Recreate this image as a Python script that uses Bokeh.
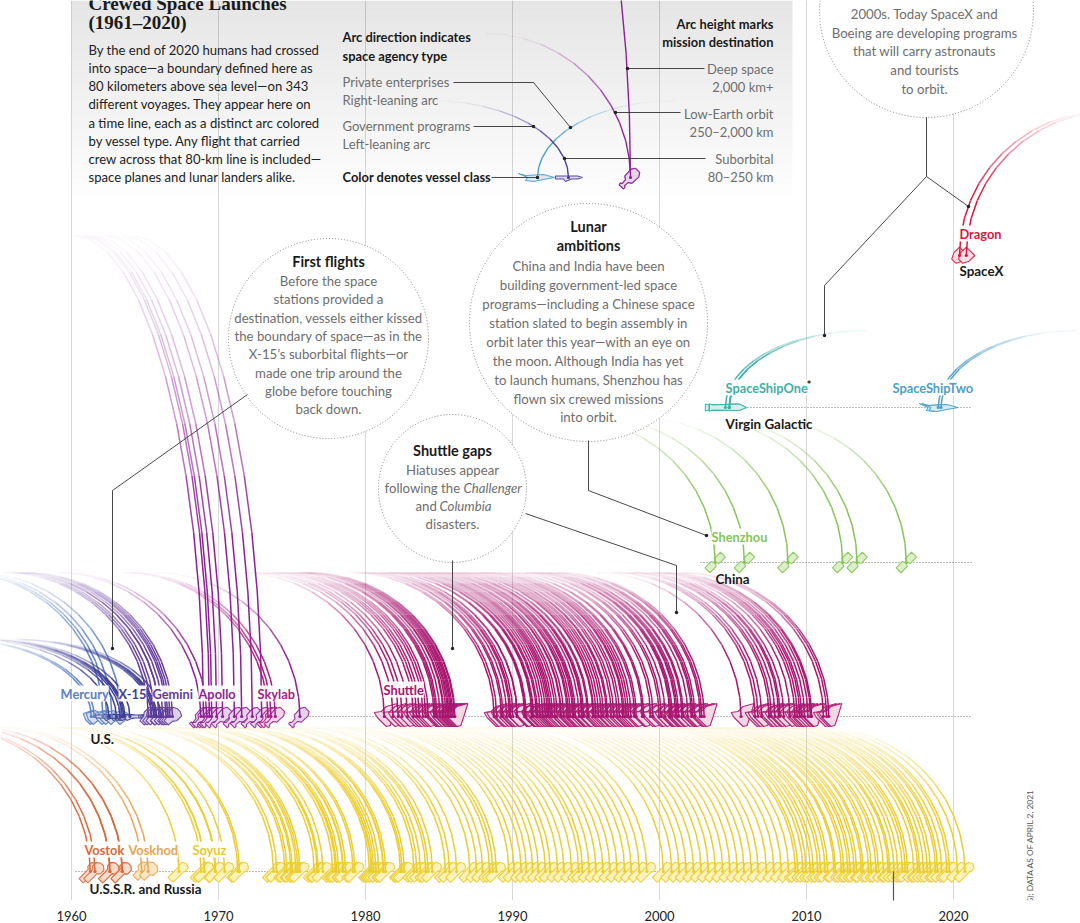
import numpy as np
from bokeh.plotting import figure
from bokeh.models import Range1d, FixedTicker, Label, Arrow
from bokeh.core.properties import value
from bokeh.embed import file_html
from bokeh.resources import INLINE

# ---- launch dates (decimal years) ----
mercury_sub = [1961.35, 1961.55]
mercury_orb = [1962.14, 1962.39, 1962.75, 1963.37]
x15 = [1962.54, 1963.05, 1963.30, 1963.46, 1963.55, 1963.63, 1963.97, 1965.46, 1965.60, 1965.70, 1965.79, 1966.07]
gemini = [1965.23, 1965.43, 1965.64, 1965.95, 1965.96, 1966.21, 1966.43, 1966.55, 1966.70, 1966.87]
apollo_leo = [1968.80, 1969.20]
apollo_deep = [1968.98, 1969.38, 1969.54, 1969.87, 1970.28, 1971.08, 1971.58, 1972.30, 1972.94]
skylab = [1973.37, 1973.57, 1973.87, 1975.54]
shuttle = [1981.28, 1981.87, 1982.23, 1982.49, 1982.86, 1983.26, 1983.47, 1983.66, 1983.91, 1984.09, 1984.27,
           1984.66, 1984.76, 1984.86, 1985.07, 1985.28, 1985.33, 1985.47, 1985.58, 1985.66, 1985.76, 1985.83,
           1985.91, 1986.03, 1986.08,
           1988.75, 1988.92, 1989.24, 1989.35, 1989.60, 1989.80, 1989.89, 1990.03, 1990.31, 1990.32, 1990.82,
           1990.87, 1990.93, 1991.30, 1991.35, 1991.42, 1991.62, 1991.71, 1991.89, 1992.06, 1992.23, 1992.37,
           1992.48, 1992.58, 1992.71, 1992.89, 1993.04, 1993.27, 1993.31, 1993.47, 1993.72, 1993.80, 1993.93,
           1994.09, 1994.18, 1994.28, 1994.52, 1994.71, 1994.75, 1994.84, 1995.10, 1995.17, 1995.48, 1995.53,
           1995.68, 1995.85, 1996.03, 1996.18, 1996.39, 1996.47, 1996.72, 1996.88, 1997.12, 1997.28, 1997.51,
           1997.59, 1997.74, 1997.89, 1998.06, 1998.30, 1998.42, 1998.83, 1998.92, 1999.39, 1999.56, 1999.97,
           2000.11, 2000.38, 2000.69, 2000.77, 2000.86, 2001.10, 2001.19, 2001.30, 2001.53, 2001.61, 2001.93,
           2002.17, 2002.27, 2002.40, 2002.76, 2002.87, 2003.04,
           2005.55, 2006.50, 2006.70, 2006.95, 2007.45, 2007.60, 2007.85, 2008.10, 2008.20, 2008.45, 2008.87,
           2009.20, 2009.37, 2009.54, 2009.66, 2009.87, 2010.10, 2010.27, 2010.35, 2011.15, 2011.37, 2011.52]
vostok = [1961.28, 1961.60, 1962.61, 1962.62, 1963.45, 1963.46]
voskhod = [1964.78, 1965.22]
soyuz = [1967.31, 1968.82, 1969.04, 1969.05, 1969.78, 1969.79, 1969.80, 1970.42, 1971.31, 1971.43, 1973.74, 1973.96,
         1974.51, 1974.65, 1974.92, 1975.02, 1975.27, 1975.40, 1975.54, 1976.51, 1976.71, 1976.79, 1977.10, 1977.77,
         1977.95, 1978.03, 1978.17, 1978.46, 1978.49, 1978.65, 1979.15, 1979.28, 1980.27, 1980.40, 1980.43, 1980.56,
         1980.72, 1980.91, 1981.20, 1981.23, 1981.37, 1982.37, 1982.48, 1982.64, 1983.30, 1983.49, 1983.74, 1984.10,
         1984.26, 1984.55, 1985.43, 1985.71, 1986.20, 1987.10, 1987.56, 1987.97, 1988.44, 1988.66, 1988.90, 1989.75,
         1990.11, 1990.59, 1990.95, 1991.38, 1991.76, 1992.24, 1992.57, 1993.07, 1993.50, 1994.02, 1994.50, 1994.76,
         1995.21, 1995.68, 1996.15, 1996.63, 1997.11, 1997.63, 1998.08, 1998.62, 1999.14, 2000.26, 2000.83, 2001.33,
         2001.81, 2002.32, 2002.83, 2003.32, 2003.80, 2004.30, 2004.79, 2005.29, 2005.75, 2006.25, 2006.71, 2007.27,
         2007.78, 2008.28, 2008.78, 2009.24, 2009.41, 2009.75, 2009.97, 2010.26, 2010.46, 2010.77, 2010.96, 2011.26,
         2011.44, 2011.87, 2011.97, 2012.38, 2012.54, 2012.81, 2012.97, 2013.24, 2013.41, 2013.73, 2013.85, 2014.23,
         2014.41, 2014.73, 2014.90, 2015.24, 2015.56, 2015.67, 2015.96, 2016.21, 2016.52, 2016.72, 2016.88, 2017.30,
         2017.57, 2017.70, 2017.96, 2018.22, 2018.43, 2018.78, 2018.92, 2019.20, 2019.55, 2019.73, 2020.27, 2020.78]
shenzhou = [2003.79, 2005.78, 2008.74, 2012.46, 2013.44, 2016.79]
spaceshipone = [2004.48, 2004.73, 2004.76]
spaceshiptwo = [2018.96, 2019.15]
dragon = [2020.41, 2020.87]

tick_years = [1960, 1970, 1980, 1990, 2000, 2010, 2020]

# ---- scale of the picture ----
PXY = 14.7
def X(px):
    return 1960 + (np.asarray(px, dtype=float) - 71) / PXY

BODY = "Lato"
INK = "#1a1a1a"
GREY = "#6e6e6e"

LEO_H, SUB_H, DEEP_H = 144, 77, 481
LEO_W, SUB_W, DEEP_W = 145, 138, 130

# ---- vessel outlines, px around the launch dot ----
def tilt(poly):
    return [((u + v) * 0.707, (-u + v) * 0.707) for u, v in poly]

SHAPES = {
    "capsule": tilt([(-13, -3), (-11, -3), (-10, -1.5), (-5, -2), (-3, -5), (6, -5.5), (10, -3), (10, 3), (6, 5.5),
                     (-3, 5), (-5, 2), (-10, 1.5), (-11, 3), (-13, 3)]),
    "gemini": tilt([(-9, -3), (-3, -3.5), (0, -6), (7, -6), (9, -2), (9, 2), (7, 6), (0, 6), (-3, 3.5), (-9, 3)]),
    "mercury": [(-8, -3), (1, -6), (7, -3), (6, 2), (-1, 8), (-6, 3)],
    "x15": [(-13, -1.5), (9, -1.5), (14, 0), (9, 1.5), (3, 1.5), (-3, 4), (-5, 1.5), (-13, 1.5)],
    "shuttle": [(-10, -4), (-7, 1), (2, 10), (6, 9), (9, 0), (13, -13), (2, -10), (-3, -5)],
    "vostok": tilt([(-13, -3), (0, -3), (2, -5.5), (7, -5.5), (10, -2), (10, 2), (7, 5.5), (2, 5.5), (0, 3), (-13, 3)]),
    "voskhod": tilt([(-9, -3.5), (-1, -3.5), (1, -6.5), (7, -6.5), (10, -2.5), (10, 2.5), (7, 6.5), (1, 6.5), (-1, 3.5), (-9, 3.5)]),
    "soyuz": tilt([(-12, -3.5), (3, -3.5), (5, -4.5), (9, -4), (11, 0), (9, 4), (5, 4.5), (3, 3.5), (-12, 3.5)]),
    "shenzhou": tilt([(-11, -3.5), (-2, -3.5), (-1, -1), (1, -1), (2, -3.5), (11, -3.5), (11, 3.5), (2, 3.5), (1, 1), (-1, 1), (-2, 3.5), (-11, 3.5)]),
    "dragon": tilt([(-8, -3), (-2, -6), (6, -6), (6, 6), (-2, 6), (-8, 3)]),
    "ss1": [(-20, -3.5), (-16, -2.5), (10, -3.5), (17, 0), (10, 3), (-16, 2.5), (-20, 3.5)],
    "ss2": [(-19, -4), (-12, -2), (6, -3), (17, 0), (6, 2), (-4, 4), (-12, 3), (-10, 0)],
}

# name, dates, line colour, icon fill, arc h, arc w, direction, base row, shape
PROGRAMS = [
    ("Vostok", vostok, "#d8693c", "#f8dccb", LEO_H, LEO_W, -1, 871, "vostok"),
    ("Voskhod", voskhod, "#e8a552", "#fbe6c4", LEO_H, LEO_W, -1, 871, "voskhod"),
    ("Soyuz", soyuz, "#eccd2f", "#fbf2bd", LEO_H, LEO_W, -1, 871, "soyuz"),
    ("Mercury sub", mercury_sub, "#5b80c2", "#d5dff0", SUB_H, SUB_W, -1, 716, "mercury"),
    ("Mercury", mercury_orb, "#5b80c2", "#d5dff0", LEO_H, LEO_W, -1, 716, "mercury"),
    ("X-15", x15, "#3f3d96", "#d8d7ea", SUB_H, SUB_W, -1, 716, "x15"),
    ("Gemini", gemini, "#653a9c", "#dcd2e8", LEO_H, LEO_W, -1, 716, "gemini"),
    ("Apollo LEO", apollo_leo, "#8e1f96", "#e7d3ea", LEO_H, LEO_W, -1, 716, "capsule"),
    ("Apollo", apollo_deep, "#8e1f96", "#e7d3ea", DEEP_H, DEEP_W, -1, 716, "capsule"),
    ("Skylab", skylab[:3], "#a81c85", "#f0d5e7", LEO_H, LEO_W, -1, 716, "capsule"),
    ("ASTP", skylab[3:], "#8e1f96", "#e7d3ea", LEO_H, LEO_W, -1, 716, "capsule"),
    ("Shuttle", shuttle, "#a8156f", "#f2d8e4", LEO_H, LEO_W, -1, 716, "shuttle"),
    ("Shenzhou", shenzhou, "#86c45a", "#dcefc9", LEO_H, LEO_W, -1, 562, "shenzhou"),
    ("SpaceShipOne", spaceshipone, "#3fb0a8", "#d6efec", SUB_H, SUB_W, 1, 407, "ss1"),
    ("SpaceShipTwo", spaceshiptwo, "#4d9fc8", "#d8ebf5", SUB_H, SUB_W, 1, 407, "ss2"),
    ("Dragon", dragon, "#d8173f", "#fbdfe5", LEO_H, LEO_W, 1, 255, "dragon"),
]

# ---- the little key in the panel: base px, colour, fill, h, w, dir, shape ----
KEY = [
    (537, "#4d9fc8", "#d8ebf5", SUB_H, SUB_W, 1, "ss2"),
    (568, "#4a3f9e", "#dcd7ee", SUB_H, SUB_W, -1, "x15"),
    (630, "#8e1f96", "#e7d3ea", LEO_H, LEO_W, -1, "capsule"),
    (630, "#8e1f96", "#e7d3ea", DEEP_H, DEEP_W, -1, "capsule"),
]
KEY_Y = 177

p = figure(width=1080, height=923, frame_width=1080, frame_height=900, output_backend="svg", toolbar_location=None,
           x_range=Range1d(float(X(0)), float(X(1080))), y_range=Range1d(900, 0),
           min_border=0, min_border_bottom=23, outline_line_color=None, background_fill_color="white",
           border_fill_color="white", y_axis_location=None)
p.xaxis.ticker = FixedTicker(ticks=tick_years)
p.xaxis.axis_line_color = None
p.xaxis.major_tick_line_color = None
p.xaxis.minor_tick_line_color = None
p.xaxis.major_label_standoff = 4
p.xaxis.major_label_text_font = BODY
p.xaxis.major_label_text_font_size = "13px"
p.xaxis.major_label_text_color = "#222222"
p.xgrid.ticker = FixedTicker(ticks=tick_years)
p.xgrid.grid_line_color = "#d8d8d8"
p.xgrid.grid_line_width = 1
p.ygrid.visible = False

# panel gradient
rows = np.arange(0, 210, 5)
p.quad(left=float(X(71)), right=float(X(792)), top=rows, bottom=rows + 5, fill_color="#000000",
       fill_alpha=np.clip(0.10 * (1 - rows / 205.0), 0, 1), line_color=None)

# baselines
for a, b, y in [(300, 972, 716), (75, 972, 871), (700, 972, 562), (735, 972, 407)]:
    p.line(X([a, b]), [y, y], line_color="#555555", line_width=0.8, line_dash="1 2")

TH = np.radians(np.linspace(0, 90, 13))
def arc_parts(x0_year, base, h, w, d):
    x0 = 71 + (x0_year - 1960) * PXY
    xs = x0 + d * w * (1 - np.cos(TH))
    ys = base - h * np.sin(TH)
    xl, yl, al = [], [], []
    fade = 0.75 if h == DEEP_H else 1.3
    for i in range(len(TH) - 1):
        xl.append(X(xs[i:i + 2]))
        yl.append(ys[i:i + 2])
        s = np.sin(TH[i + 1])
        al.append(float(np.clip(1.0 - 0.98 * max(0.0, (s - 0.45) / 0.55) ** fade, 0.03, 1)))
    return xl, yl, al

def draw_icons(years, base, shape, col, fill):
    xs = [X(71 + (t - 1960) * PXY + np.array([q[0] for q in SHAPES[shape]])) for t in years]
    ys = [base + np.array([q[1] for q in SHAPES[shape]]) for t in years]
    p.patches(xs, ys, fill_color=fill, line_color=col, line_width=1.1, line_alpha=0.9)

for name, dates, col, fill, h, w, d, base, shape in PROGRAMS:
    draw_icons(dates, base, shape, col, fill)
for name, dates, col, fill, h, w, d, base, shape in PROGRAMS:
    xl, yl, al = [], [], []
    for t in dates:
        a, b, c = arc_parts(t, base, h, w, d)
        xl += a; yl += b; al += c
    p.multi_line(xl, yl, line_color=col, line_alpha=al, line_width=1.5)
    p.scatter(dates, [base] * len(dates), size=3.2, color=col, line_color=None)

for bx, col, fill, h, w, d, shape in KEY:
    t = float(X(bx))
    draw_icons([t], KEY_Y, shape, col, fill)
    a, b, c = arc_parts(t, KEY_Y, h, w, d)
    p.multi_line(a, b, line_color=col, line_alpha=c, line_width=1.4)
    p.scatter([t], [KEY_Y], size=3.2, color=col, line_color=None)

def txt(x, y, s, color=INK, size=13, style="normal", align="left", font=BODY, bg=False):
    kw = {}
    if bg:
        kw = dict(background_fill_color="white", background_fill_alpha=0.92)
    p.text([float(X(x))], [y], text=[s], text_color=color, text_font=value(font), text_font_size=f"{size}px",
           text_font_style=style, text_align=align, text_baseline="middle", **kw)

# vessel labels
LABELS = [("Mercury", 60, 693, "#5b80c2"), ("X-15", 118, 693, "#3f3d96"), ("Gemini", 152, 693, "#653a9c"),
          ("Apollo", 198, 693, "#8e1f96"), ("Skylab", 257, 693, "#a81c85"), ("Shuttle", 383, 689, "#a8156f"),
          ("Vostok", 84, 849, "#d8693c"), ("Voskhod", 128, 849, "#e8a552"), ("Soyuz", 192, 849, "#e8c92c"),
          ("Shenzhou", 711, 536, "#86c45a"), ("SpaceShipOne", 725, 387, "#3fb0a8"), ("SpaceShipTwo", 892, 387, "#4d9fc8"),
          ("Dragon", 959, 233, "#d8173f")]
for s, x, y, c in LABELS:
    txt(x, y, s, c, 12.8, "bold", bg=True)
txt(806, 384, "*", INK, 12, "bold")
AGENCIES = [("SpaceX", 959, 270), ("Virgin Galactic", 725, 423), ("China", 715, 578), ("U.S.", 90, 738),
            ("U.S.S.R. and Russia", 89, 888)]
for s, x, y in AGENCIES:
    txt(x, y, s, INK, 13.4, "bold")

# callout circles
CIRCLES = [(328, 338, 100), (588, 322, 119), (452, 488, 74), (926, 10, 107)]
p.scatter(X([c[0] for c in CIRCLES]), [c[1] for c in CIRCLES], size=[2 * c[2] for c in CIRCLES], marker="circle",
          fill_color="white", line_color="#777777", line_width=0.9, line_dash="1 2")

FIRST = ["Before the space", "stations provided a", "destination, vessels either kissed", "the boundary of space\u2014as in the",
         "X-15\u2019s suborbital flights\u2014or", "made one trip around the", "globe before touching", "back down."]
LUNAR = ["China and India have been", "building government-led space", "programs\u2014including a Chinese space",
         "station slated to begin assembly in", "orbit later this year\u2014with an eye on", "the moon. Although India has yet",
         "to launch humans, Shenzhou has", "flown six crewed missions", "into orbit."]
COMMERCIAL = ["2000s. Today SpaceX and", "Boeing are developing programs", "that will carry astronauts", "and tourists", "to orbit."]
INTRO = ["By the end of 2020 humans had crossed", "into space\u2014a boundary defined here as", "80 kilometers above sea level\u2014on 343",
         "different voyages. They appear here on", "a time line, each as a distinct arc colored", "by vessel type. Any flight that carried",
         "crew across that 80-km line is included\u2014", "space planes and lunar landers alike."]

CT = 13.2
HD = 14.5
txt(328, 261, "First flights", INK, HD, "bold", "center")
for s, y in zip(FIRST, [280, 298, 317, 335, 353, 372, 390, 408]):
    txt(328, y, s, GREY, CT, align="center")
txt(588, 226, "Lunar", INK, HD, "bold", "center")
txt(588, 245, "ambitions", INK, HD, "bold", "center")
for s, y in zip(LUNAR, [265, 284, 303, 322, 341, 360, 379, 398, 416]):
    txt(588, y, s, GREY, CT, align="center")
txt(452, 450, "Shuttle gaps", INK, HD, "bold", "center")
txt(452, 469, "Hiatuses appear", GREY, CT, align="center")
txt(384, 487, "following the", GREY, CT)
txt(463, 487, "Challenger", GREY, CT, "italic")
txt(415, 505, "and", GREY, CT)
txt(439, 505, "Columbia", GREY, CT, "italic")
txt(452, 523, "disasters.", GREY, CT, align="center")
for s, y in zip(COMMERCIAL, [13, 32, 50, 69, 88]):
    txt(924, y, s, GREY, CT, align="center")

# panel text
txt(88, 3, "Crewed Space Launches", INK, 19, "bold", font="Liberation Serif")
txt(88, 22, "(1961\u20132020)", INK, 19, "bold", font="Liberation Serif")
for s, y in zip(INTRO, [49, 67, 85, 103, 122, 140, 158, 176]):
    txt(88, y, s, "#222222", 13.1)
txt(342, 36, "Arc direction indicates", INK, 12.9, "bold")
txt(342, 55, "space agency type", INK, 12.9, "bold")
for s, y in [("Private enterprises", 81), ("Right-leaning arc", 99), ("Government programs", 125), ("Left-leaning arc", 143)]:
    txt(342, y, s, GREY, 13)
txt(342, 176, "Color denotes vessel class", INK, 12.9, "bold")
txt(773, 23, "Arc height marks", INK, 12.9, "bold", "right")
txt(773, 41, "mission destination", INK, 12.9, "bold", "right")
for s, y in [("Deep space", 68), ("2,000 km+", 86), ("Low-Earth orbit", 113), ("250\u20132,000 km", 131), ("Suborbital", 158), ("80\u2013250 km", 176)]:
    txt(773, y, s, GREY, 13, align="right")

# leaders
LEADERS = [([247, 112, 112], [394, 490, 648]), ([452, 452], [560, 648]), ([525, 676, 676], [513, 565, 612]),
           ([588, 588, 706], [440, 490, 535]), ([926, 926, 824, 824], [117, 176, 285, 335]), ([926, 968], [176, 206]),
           ([453, 533, 570], [82, 82, 127]), ([473, 533], [126, 126]), ([491, 537], [177, 177]),
           ([704, 627], [68, 68]), ([680, 615], [112, 112]), ([705, 564], [158, 158])]
for xs, ys in LEADERS:
    p.line(X(xs), ys, line_color="#333333", line_width=0.9)
    p.scatter([float(X(xs[-1]))], [ys[-1]], size=3.5, color="#222222", line_color=None)

p.add_layout(Arrow(end=None, x_start=float(X(893)), y_start=871, x_end=float(X(893)), y_end=921,
                   line_color="#555555", line_width=1.2))
p.add_layout(Label(x=float(X(1029)), y=922, text="9.ORG); DATA AS OF APRIL 2, 2021", angle=np.pi / 2,
                   text_font=BODY, text_font_size="8.4px", text_color="#555555", text_align="left", text_baseline="middle"))

open("out.html", "w").write(file_html(p, INLINE))
